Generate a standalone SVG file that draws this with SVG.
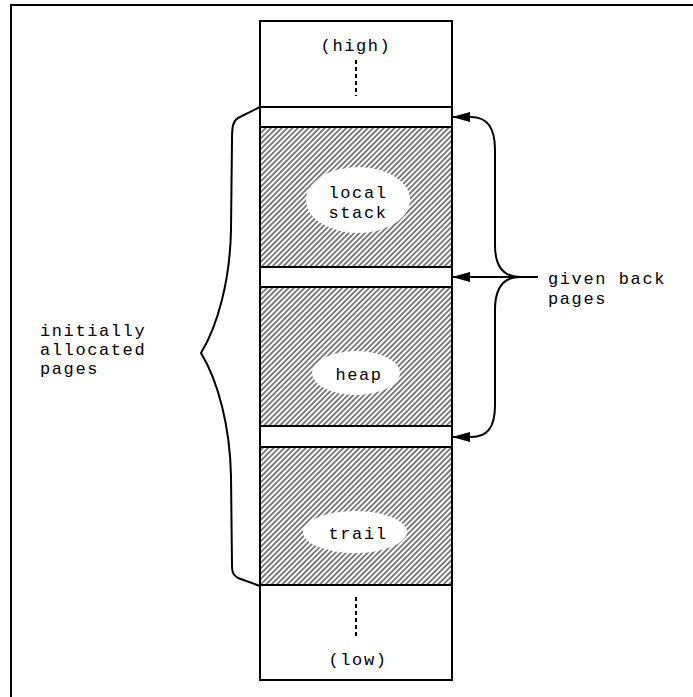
<svg xmlns="http://www.w3.org/2000/svg" width="693" height="697" viewBox="0 0 693 697">
  <defs>
    <pattern id="hatch" patternUnits="userSpaceOnUse" width="3.8" height="3.8" patternTransform="rotate(45)">
      <rect x="0" y="0" width="3.8" height="3.8" fill="#ffffff"/>
      <line x1="1" y1="0" x2="1" y2="3.8" stroke="#3c3c3c" stroke-width="1.3"/>
    </pattern>
    <marker id="arrow" viewBox="0 0 18 10" refX="17" refY="5" markerWidth="18" markerHeight="10" markerUnits="userSpaceOnUse" orient="auto">
      <path d="M0,0 L18,5 L0,10 Z" fill="#000"/>
    </marker>
  </defs>
  <style>
    .frame { fill: none; stroke: #000; stroke-width: 2; }
    .cell { stroke: #000; stroke-width: 2; }
    .free { fill: #fff; }
    .used { fill: url(#hatch); }
    .oval { fill: #fff; stroke: none; }
    .dots { stroke: #000; stroke-width: 2; stroke-dasharray: 4 3; }
    .brace { fill: none; stroke: #000; stroke-width: 2; }
    .lbl { font-family: "Liberation Mono", "Courier New", monospace; font-size: 17px; letter-spacing: 1.6px; fill: #000; }
    .mid { text-anchor: middle; }
  </style>

  <path class="frame" d="M11,697 L11,5 L693,5"/>

  <g id="column">
    <rect class="cell free" x="260" y="21" width="192" height="86"/>
    <rect class="cell free" x="260" y="107" width="192" height="20"/>
    <rect class="cell used" x="260" y="127" width="192" height="140"/>
    <rect class="cell free" x="260" y="267" width="192" height="20"/>
    <rect class="cell used" x="260" y="287" width="192" height="139"/>
    <rect class="cell free" x="260" y="426" width="192" height="21"/>
    <rect class="cell used" x="260" y="447" width="192" height="138"/>
    <rect class="cell free" x="260" y="585" width="192" height="95"/>
  </g>

  <g id="high">
    <text class="lbl mid" x="356" y="51">(high)</text>
    <line class="dots" x1="356" y1="60" x2="356" y2="96"/>
  </g>

  <g id="local-stack">
    <ellipse class="oval" cx="358" cy="200" rx="52" ry="33"/>
    <text class="lbl mid" x="358" y="198">local</text>
    <text class="lbl mid" x="358" y="218">stack</text>
  </g>

  <g id="heap">
    <ellipse class="oval" cx="356" cy="373" rx="44" ry="22"/>
    <text class="lbl mid" x="359" y="380">heap</text>
  </g>

  <g id="trail">
    <ellipse class="oval" cx="355" cy="532" rx="52" ry="21"/>
    <text class="lbl mid" x="358" y="539">trail</text>
  </g>

  <g id="low">
    <line class="dots" x1="356" y1="597" x2="356" y2="636"/>
    <text class="lbl mid" x="358" y="665">(low)</text>
  </g>

  <g id="initially-allocated">
    <text class="lbl" x="40" y="336">initially</text>
    <text class="lbl" x="40" y="355">allocated</text>
    <text class="lbl" x="40" y="374">pages</text>
  </g>

  <g id="given-back">
    <text class="lbl" x="548" y="284">given back</text>
    <text class="lbl" x="548" y="304">pages</text>
  </g>

  <g id="connectors">
    <path class="brace" d="M260,107 L238,118 C233,121 232,126 232,140 L231,230 C230,280 218,325 201,353 C218,381 230,426 231,476 L232,566 C232,572 233,575 238,578 L260,586"/>
    <path class="brace" d="M520,277 C505,277 495,268 495,245 L495,150 C495,127 487,117 471,117"/>
    <path class="brace" d="M520,277 C505,277 495,286 495,310 L495,405 C495,428 487,437 471,437"/>
    <path class="brace" d="M471,117 L453,117" marker-end="url(#arrow)"/>
    <path class="brace" d="M471,437 L453,437" marker-end="url(#arrow)"/>
    <path class="brace" d="M538,277 L453,277" marker-end="url(#arrow)"/>
  </g>
</svg>
